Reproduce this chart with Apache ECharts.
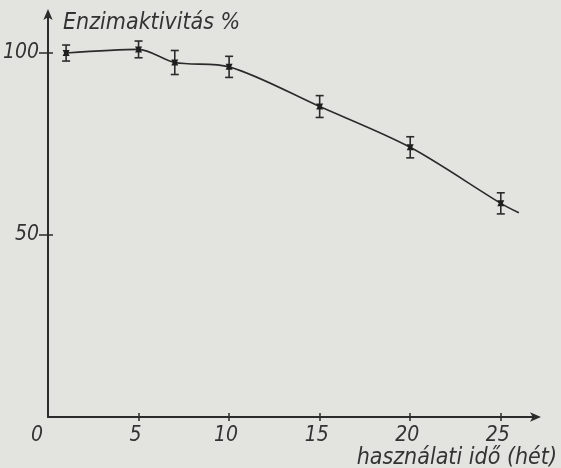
<!DOCTYPE html>
<html><head><meta charset="utf-8">
<script src="https://cdn.jsdelivr.net/npm/echarts@6/dist/echarts.min.js"></script>
<style>html,body{margin:0;padding:0;background:#e3e4df;}#c{width:561px;height:468px;}</style>
</head><body><div id="c"></div>
<script>
// Data
const weeks = [1, 5, 7, 10, 15, 20, 25];
const activity = [100, 101, 97.4, 96.2, 85.3, 74.1, 58.7];
const errors = [2.2, 2.3, 3.3, 2.9, 3.0, 2.9, 2.9];
// hand-drawn trend curve (runs a little past the last point)
const curveWeeks = [1, 5, 7, 10, 15, 20, 25, 26];
const curveValues = [100, 101, 97.4, 96.2, 85.3, 74.1, 58.7, 56.1];
const xTicks = [5, 10, 15, 20, 25];
const xLabels = [0, 5, 10, 15, 20, 25];
const yTicks = [50, 100];
const yTitle = 'Enzimaktivitás %';
const xTitle = 'használati idő (hét)';

const FONT = '"Liberation Sans Narrow", "DejaVu Sans Condensed", "Liberation Sans", sans-serif';
const INK = '#2b2b2b';
const TXT = '#333333';

const chart = echarts.init(document.getElementById('c'), null, {renderer: 'canvas'});
const errData = weeks.map((w, i) => [w, activity[i] - errors[i], activity[i] + errors[i], activity[i]]);

chart.setOption({
  backgroundColor: '#e3e4df',
  animation: false,
  grid: {left: 48, right: 561 - 537, top: 13, bottom: 51, containLabel: false, outerBoundsMode: 'none'},
  xAxis: [{
    type: 'value', min: 0, max: 27,
    axisLine: {show: true, lineStyle: {color: INK, width: 2}, symbol: ['none', 'arrow'], symbolSize: [7, 11], symbolOffset: [0, 4]},
    axisTick: {show: true, length: 4, lineStyle: {color: INK, width: 1.5}, customValues: xTicks},
    splitLine: {show: false},
    axisLabel: {
      show: true, margin: 8, color: TXT, fontFamily: FONT, fontStyle: 'italic', fontSize: 21,
      customValues: xLabels,
      formatter: v => v === 0 ? '{z|0}' : '{n|' + v + '}',
      rich: {z: {padding: [0, 22, 0, 0], fontFamily: FONT, fontStyle: 'italic', fontSize: 21, color: TXT},
             n: {padding: [0, 6, 0, 0], fontFamily: FONT, fontStyle: 'italic', fontSize: 21, color: TXT}}
    },
    name: xTitle, nameLocation: 'end', nameGap: 20, nameMoveOverlap: false,
    nameTextStyle: {color: TXT, fontFamily: FONT, fontStyle: 'italic', fontSize: 23, align: 'right', verticalAlign: 'top', lineHeight: 24, padding: [29, 0, 0, 0]}
  }, {
    type: 'value', min: 0, max: 27, position: 'bottom',
    axisLine: {show: false}, axisLabel: {show: false}, splitLine: {show: false},
    axisTick: {show: true, inside: true, length: 4, lineStyle: {color: INK, width: 1.5}, customValues: xTicks}
  }],
  yAxis: [{
    type: 'value', min: 0, max: 111,
    axisLine: {show: true, lineStyle: {color: INK, width: 2}, symbol: ['none', 'arrow'], symbolSize: [7, 11], symbolOffset: [0, 4]},
    axisTick: {show: true, length: 9, lineStyle: {color: INK, width: 1.5}, customValues: yTicks},
    splitLine: {show: false},
    axisLabel: {show: true, margin: 9, color: TXT, fontFamily: FONT, fontStyle: 'italic', fontSize: 21, customValues: yTicks, padding: [8, 0, 0, 0]},
    name: yTitle, nameLocation: 'end', nameGap: -10, nameMoveOverlap: false,
    nameTextStyle: {color: TXT, fontFamily: FONT, fontStyle: 'italic', fontSize: 23, align: 'left', verticalAlign: 'middle', padding: [0, 0, 0, 15]}
  }, {
    type: 'value', min: 0, max: 111, position: 'left',
    axisLine: {show: false}, axisLabel: {show: false}, splitLine: {show: false},
    axisTick: {show: true, inside: true, length: 5, lineStyle: {color: INK, width: 1.5}, customValues: yTicks}
  }],
  series: [{
    type: 'line',
    data: curveWeeks.map((w, i) => [w, curveValues[i]]),
    smooth: 0.3,
    showSymbol: false,
    lineStyle: {color: INK, width: 1.6},
    z: 2
  }, {
    type: 'custom',
    data: errData,
    z: 3,
    renderItem: function (params, api) {
      const x = api.coord([api.value(0), api.value(1)])[0];
      const yLo = api.coord([api.value(0), api.value(1)])[1];
      const yHi = api.coord([api.value(0), api.value(2)])[1];
      const yM = api.coord([api.value(0), api.value(3)])[1];
      const cap = 4;
      const ls = {stroke: INK, lineWidth: 1.6};
      return {
        type: 'group',
        children: [
          {type: 'line', shape: {x1: x, y1: yLo, x2: x, y2: yHi}, style: ls},
          {type: 'line', shape: {x1: x - cap, y1: yLo, x2: x + cap, y2: yLo}, style: ls},
          {type: 'line', shape: {x1: x - cap, y1: yHi, x2: x + cap, y2: yHi}, style: ls},
          {type: 'polygon', shape: {points: [[x - 3.5, yM - 3], [x + 3.5, yM - 3], [x + 2, yM], [x + 3.5, yM + 3], [x - 3.5, yM + 3], [x - 2, yM]]}, style: {fill: '#1e1e1e'}}
        ]
      };
    }
  }]
});
</script>
</body></html>
